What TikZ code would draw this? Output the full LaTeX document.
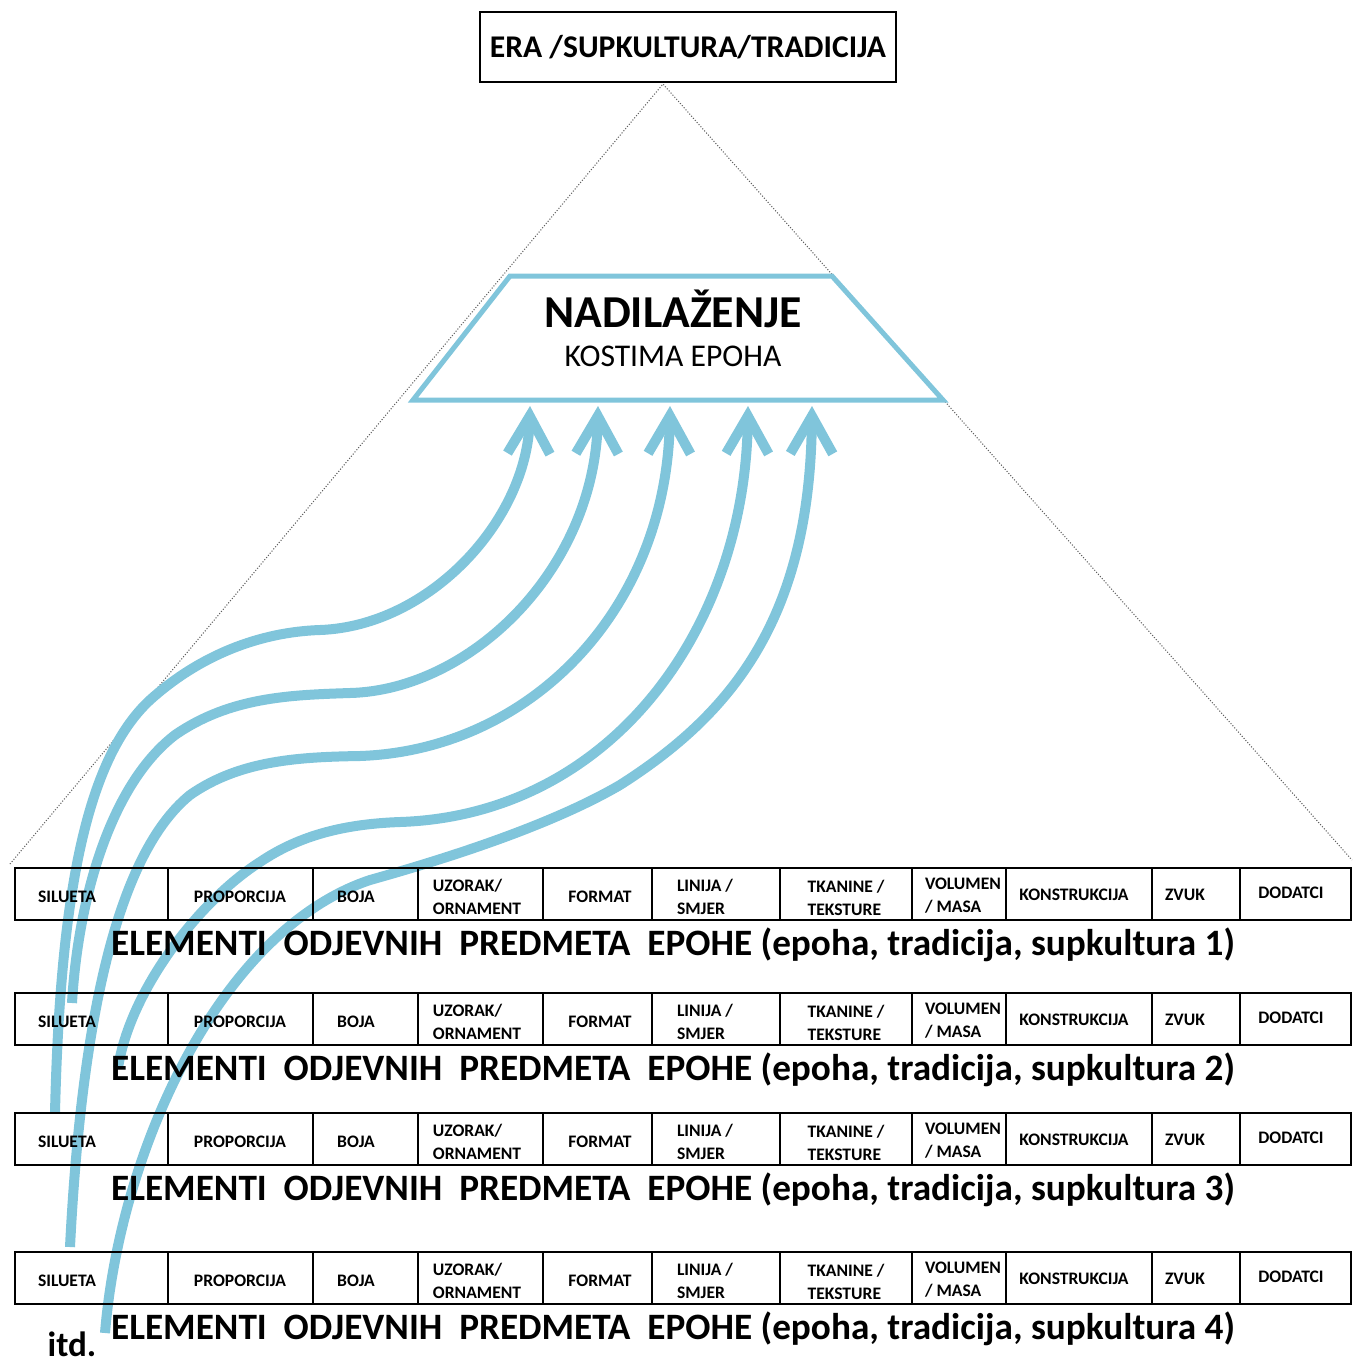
\documentclass[tikz,border=0pt]{standalone}
\usepackage{fontspec}
\setmainfont{Carlito}
\usetikzlibrary{arrows.meta}

\definecolor{flowblue}{RGB}{128,197,219}
\definecolor{pyramidgray}{RGB}{95,95,95}

\begin{document}
\begin{tikzpicture}[x=0.02cm,y=-0.02cm]

        % Define styles
        \tikzstyle{topbox} = [draw, line width=1.5pt, minimum width=8.32cm, minimum height=1.4cm, font=\fontsize{18}{20}\selectfont\bfseries]
        \tikzstyle{trap} = [draw=flowblue, line width=0.1cm, fill=white, line join=miter]
        \tikzstyle{flow} = [draw=flowblue, line width=0.2cm, -{Straight Barb[length=0.75cm,width=0.85cm]}]
        \tikzstyle{row} = [draw, line width=1.2pt]
        \tikzstyle{cell} = [inner sep=0pt, align=left, font=\fontsize{10}{13}\selectfont\bfseries]
        \tikzstyle{caption} = [inner sep=0pt, font=\fontsize{21.2}{23}\selectfont\bfseries]

        \useasboundingbox (0,0) rectangle (1353,1367);

        % Era box and pyramid
        \node[topbox] (era) at (688,47) {ERA /SUPKULTURA/TRADICIJA};
        \coordinate (apex) at (663,84);
        \coordinate (baseleft) at (10,864);
        \coordinate (baseright) at (1352,860);
        \draw[pyramidgray, densely dotted, line width=0.6pt] (baseleft) -- (apex) -- (baseright);

        % Arrow ends and starts
        \coordinate (tipA) at (530,406);
        \coordinate (tipB) at (598,406);
        \coordinate (tipC) at (670,406);
        \coordinate (tipD) at (748,406);
        \coordinate (tipE) at (812,406);
        \coordinate (startA) at (55,1113);
        \coordinate (startB) at (72,1003);
        \coordinate (startC) at (70,1247);
        \coordinate (startD) at (118,1068);
        \coordinate (startE) at (105,1333);

        % Flows up to the trapezoid
        \draw[flow] (startA) .. controls (60,900) and (85,760) .. (150,700)
            .. controls (200,655) and (260,632) .. (320,630)
            .. controls (430,626) and (527,520) .. (tipA);
        \draw[flow] (startB) .. controls (78,900) and (110,785) .. (175,735)
            .. controls (230,697) and (290,695) .. (350,693)
            .. controls (470,690) and (595,570) .. (tipB);
        \draw[flow] (startC) .. controls (80,1050) and (110,860) .. (190,795)
            .. controls (240,760) and (300,757) .. (360,756)
            .. controls (530,750) and (667,610) .. (tipC);
        \draw[flow] (startD) .. controls (130,990) and (200,900) .. (260,862)
            .. controls (300,835) and (345,824) .. (400,822)
            .. controls (610,815) and (745,630) .. (tipD);
        \draw[flow] (startE) .. controls (120,1150) and (220,930) .. (370,880)
            .. controls (470,852) and (560,820) .. (620,785)
            .. controls (730,715) and (810,620) .. (tipE);

        % Trapezoid
        \draw[trap] (510,276) -- (832,276) -- (943,400) -- (413,400) -- cycle;
        \node[inner sep=0pt, font=\fontsize{26}{28}\selectfont\bfseries] (nadilazenje) at (673,309) {NADILAŽENJE};
        \node[inner sep=0pt, font=\fontsize{18}{20}\selectfont] (kostima) at (673,356) {KOSTIMA EPOHA};

        % Rows of elements
        \foreach \i/\t in {1/868, 2/993, 3/1113, 4/1252} {
            \draw[row] (15,\t) rectangle (1351,\t+52);
            \foreach \xd in {168,313,418,543,652,780,912,1006,1152,1240}
                \draw[row] (\xd,\t) -- (\xd,\t+52);
            \node[cell] (silueta\i) at (67,\t+29) {SILUETA};
            \node[cell] (proporcija\i) at (240,\t+29) {PROPORCIJA};
            \node[cell] (boja\i) at (356,\t+29) {BOJA};
            \node[cell] (uzorak\i) at (477,\t+29) {UZORAK/\\ORNAMENT};
            \node[cell] (format\i) at (600,\t+29) {FORMAT};
            \node[cell] (linija\i) at (705,\t+29) {LINIJA /\\SMJER};
            \node[cell] (tkanine\i) at (846,\t+30) {TKANINE /\\TEKSTURE};
            \node[cell] (volumen\i) at (963,\t+28) {VOLUMEN\\/ MASA};
            \node[cell] (konstrukcija\i) at (1074,\t+27) {KONSTRUKCIJA};
            \node[cell] (zvuk\i) at (1185,\t+27) {ZVUK};
            \node[cell] (dodatci\i) at (1291,\t+25) {DODATCI};
            \node[caption] (caption\i) at (673,\t+77) {ELEMENTI\ \ ODJEVNIH\ \ PREDMETA\ \ EPOHE (epoha, tradicija, supkultura \i)};
        }

        \node[inner sep=0pt, anchor=base, font=\fontsize{20}{22}\selectfont\bfseries] (itd) at (72,1356) {itd.};

\end{tikzpicture}
\end{document}
